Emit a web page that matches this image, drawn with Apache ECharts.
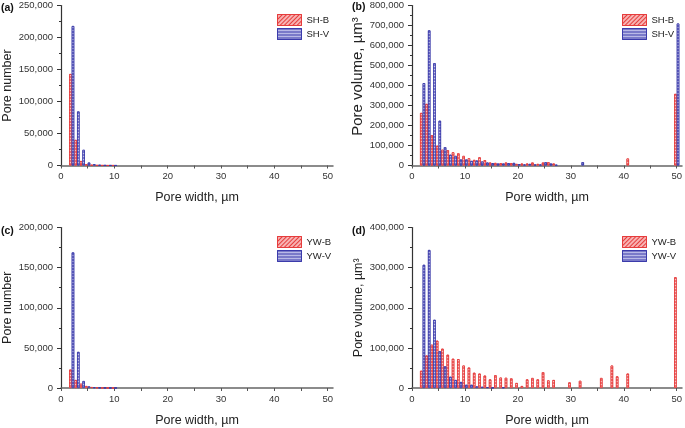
<!DOCTYPE html>
<html>
<head>
<meta charset="utf-8">
<script src="https://cdn.jsdelivr.net/npm/echarts@6/dist/echarts.min.js"></script>
<style>
html,body{margin:0;padding:0;background:#fff;}
#chart{width:685px;height:428px;}
</style>
</head>
<body>
<div id="chart"></div>
<script>
// ---- tick values ----
const xTickValues = [0, 5, 10, 15, 20, 25, 30, 35, 40, 45, 50];
const xLabelValues = [0, 10, 20, 30, 40, 50];

// ---- (a) SH pore number ----
const binsSHNumber = [2, 3, 4, 5, 6, 7, 8, 9, 10];
const shBNumber = [143000, 40000, 7000, 2000, 800, 300, 200, 100, 100];
const shVNumber = [218000, 84500, 24500, 4700, 2000, 700, 300, 200, 100];

// ---- (b) SH pore volume ----
const binsSHVolume = [2, 3, 4, 5, 6, 7, 8, 9, 10, 11, 12, 13, 14, 15, 16, 17, 18, 19, 20, 21, 22, 23, 24, 25, 26, 27, 32, 41, 50];
const shBVolume = [263000, 308000, 152000, 99000, 79000, 77000, 66000, 61000, 48000, 36000, 28000, 41000, 27000, 15000, 13000, 12000, 15000, 12000, 8000, 10000, 10000, 15000, 8000, 15000, 17000, 10000, null, 35000, 358000];
const shVVolume = [412000, 676000, 512000, 224000, 92000, 54000, 48000, 30000, 30000, 23000, 25000, 20000, 15000, 12000, 10000, 10000, 12000, 13000, 7000, 5000, 8000, 5000, 5000, 17000, 10000, 3000, 17000, null, 710000];

// ---- (c) YW pore number ----
const binsYWNumber = [2, 3, 4, 5, 6, 7, 8, 9, 10];
const ywBNumber = [23000, 10000, 5400, 2500, 1200, 600, 300, 200, 100];
const ywVNumber = [169000, 45000, 8700, 2000, 800, 400, 200, 100, 100];

// ---- (d) YW pore volume ----
const binsYWVolume = [2, 3, 4, 5, 6, 7, 8, 9, 10, 11, 12, 13, 14, 15, 16, 17, 18, 19, 20, 21, 22, 23, 24, 25, 26, 27, 30, 32, 36, 38, 39, 41, 50];
const ywBVolume = [43000, 81000, 108000, 118000, 98000, 83000, 73000, 72000, 56000, 51000, 38000, 36000, 31000, 21500, 32000, 26000, 25500, 24000, 12500, 5000, 21500, 25000, 21500, 39500, 19000, 20000, 14000, 18000, 25000, 56000, 29000, 36000, 276000];
const ywVVolume = [307000, 344000, 170000, 92000, 54000, 28000, 20000, 15000, 8000, 8000, 4000, 3000, 2000, 1000, null, 1500, null, null, null, null, null, null, null, null, null, null, null, null, null, null, null, null, null];

const panelLabels = ['(a)', '(b)', '(c)', '(d)'];
const yNames = ['Pore number', 'Pore volume, µm³', 'Pore number', 'Pore volume, µm³'];
const xName = 'Pore width, µm';

// ---- styles ----
const FONT = 'Liberation Sans, Arial, sans-serif';
const redStyle = {
  color: '#f39a9a', borderColor: '#e63c3c', borderWidth: 0.8,
  decal: { symbol: 'rect', symbolSize: 1, color: 'rgba(255,255,255,0.85)', dashArrayX: [1, 0], dashArrayY: [1, 1.5], rotation: 0 }
};
const blueStyle = {
  color: '#a3a3dc', borderColor: '#3b3bab', borderWidth: 0.8,
  decal: { symbol: 'rect', symbolSize: 1, color: 'rgba(255,255,255,0.85)', dashArrayX: [1, 0], dashArrayY: [1, 1.5], rotation: 0 }
};
const redLegendStyle = {
  color: '#f7b3b3', borderColor: '#e63c3c', borderWidth: 1,
  decal: { symbol: 'rect', symbolSize: 1, color: '#e63c3c', dashArrayX: [1, 0], dashArrayY: [1, 2], rotation: -Math.PI / 4 }
};
const blueLegendStyle = {
  color: '#b9b9e6', borderColor: '#3b3bab', borderWidth: 1,
  decal: { symbol: 'rect', symbolSize: 1, color: '#3b3bab', dashArrayX: [1, 0], dashArrayY: [1, 2], rotation: 0 }
};

const grids = [
  { left: 61, top: 5.5, width: 272, height: 160 },
  { left: 412, top: 5.5, width: 272, height: 160 },
  { left: 61, top: 227.5, width: 272, height: 160.5 },
  { left: 412, top: 227.5, width: 272, height: 160.5 }
];
const yMax = [250000, 800000, 200000, 400000];
const yInt = [50000, 100000, 50000, 100000];
const yNameSize = [12.5, 15, 12.5, 12.5];
const yNameGap = [47, 45, 47, 47];
const yNamePad = [0, [0, 0, 0, 18], 0, 0];

function fmt(v) { return v.toLocaleString('en-US'); }

const xAxes = grids.map((g, i) => ({
  type: 'value', gridIndex: i, min: 0, max: 51,
  name: xName, nameLocation: 'middle', nameGap: 26,
  nameTextStyle: { fontFamily: FONT, fontSize: 12.5, color: '#222' },
  axisLine: { show: true, lineStyle: { color: '#666', width: 1.5 } },
  axisTick: { show: true, inside: false, length: 3, customValues: xTickValues, lineStyle: { color: '#555' } },
  axisLabel: { customValues: xLabelValues, fontFamily: FONT, fontSize: 9.5, color: '#333', margin: 6, formatter: v => String(v) },
  splitLine: { show: false }
}));
const yAxes = grids.map((g, i) => ({
  type: 'value', gridIndex: i, min: 0, max: yMax[i], interval: yInt[i],
  name: yNames[i], nameLocation: 'middle', nameGap: yNameGap[i],
  nameTextStyle: { fontFamily: FONT, fontSize: yNameSize[i], color: '#222', padding: yNamePad[i] },
  axisLine: { show: true, lineStyle: { color: '#333', width: 1.2 } },
  axisTick: { show: true, inside: false, length: 4, lineStyle: { color: '#333' } },
  minorTick: { show: true, splitNumber: 2, length: 2, lineStyle: { color: '#333' } },
  axisLabel: { fontFamily: FONT, fontSize: 9.5, color: '#333', margin: 8, formatter: fmt },
  splitLine: { show: false }
}));

function pairs(bins, vals) { return bins.map((b, k) => [b, vals[k]]).filter(p => p[1] != null); }

const panels = [
  { names: ['SH-B', 'SH-V'], bins: binsSHNumber, b: shBNumber, v: shVNumber },
  { names: ['SH-B', 'SH-V'], bins: binsSHVolume, b: shBVolume, v: shVVolume },
  { names: ['YW-B', 'YW-V'], bins: binsYWNumber, b: ywBNumber, v: ywVNumber },
  { names: ['YW-B', 'YW-V'], bins: binsYWVolume, b: ywBVolume, v: ywVVolume }
];

const series = [];
panels.forEach((p, i) => {
  series.push({
    type: 'bar', name: p.names[0], xAxisIndex: i, yAxisIndex: i,
    data: pairs(p.bins, p.b), barWidth: 2.5, barGap: '5%', itemStyle: redStyle, clip: false
  });
  series.push({
    type: 'bar', name: p.names[1], xAxisIndex: i, yAxisIndex: i,
    data: pairs(p.bins, p.v), barWidth: 2.5, barGap: '5%', itemStyle: blueStyle, clip: false
  });
});

const legendPos = [[272, 9], [617, 9], [272, 231], [617, 231]];
const legends = panels.map((p, i) => ({
  left: legendPos[i][0], top: legendPos[i][1], orient: 'vertical',
  itemWidth: 24, itemHeight: 11, itemGap: 2,
  textStyle: { fontFamily: FONT, fontSize: 9.5, color: '#222' },
  selectedMode: false,
  data: [
    { name: p.names[0], icon: 'rect', itemStyle: redLegendStyle },
    { name: p.names[1], icon: 'rect', itemStyle: blueLegendStyle }
  ]
}));

const labelPos = [[1, 3], [352, 2], [1, 226], [352, 226]];
const graphics = panelLabels.map((t, i) => ({
  type: 'text', left: labelPos[i][0], top: labelPos[i][1],
  style: { text: t, font: 'bold 10.5px ' + FONT, fill: '#111' }
}));

const chart = echarts.init(document.getElementById('chart'), null, { renderer: 'canvas' });
chart.setOption({
  animation: false,
  backgroundColor: '#fff',
  grid: grids,
  xAxis: xAxes,
  yAxis: yAxes,
  legend: legends,
  graphic: graphics,
  series: series
});
</script>
</body>
</html>
